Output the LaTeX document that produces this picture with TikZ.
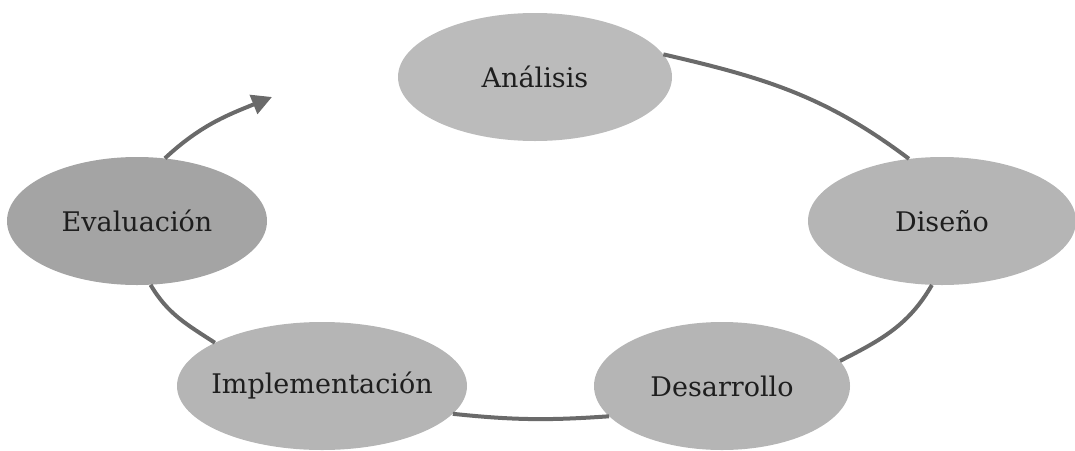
\documentclass[tikz,border=0pt]{standalone}
\usepackage{fontspec}
\setmainfont{DejaVu Serif}
\usetikzlibrary{arrows.meta,shapes.geometric}
\definecolor{fillA}{HTML}{BBBBBB}
\definecolor{fillB}{HTML}{B5B5B5}
\definecolor{fillE}{HTML}{A4A4A4}
\definecolor{linec}{HTML}{6A6A6A}
\definecolor{textc}{HTML}{1E1E1E}
\begin{document}
\begin{tikzpicture}[x=1pt,y=-1pt,
  phase/.style={ellipse,fill=fillB,inner xsep=-20pt,inner ysep=0pt,text=textc,font=\fontsize{27}{30}\selectfont},
  cycleline/.style={draw=linec,line width=4pt}]
\useasboundingbox (0,0) rectangle (1075,450);
\node[phase,fill=fillA,minimum width=274pt,minimum height=128pt] (ana) at (535,77) {Análisis};
\node[phase,minimum width=268pt,minimum height=128pt] (dis) at (942,221) {Diseño};
\node[phase,minimum width=256pt,minimum height=128pt] (des) at (722,386) {Desarrollo};
\node[phase,minimum width=290pt,minimum height=128pt] (imp) at (322,386) {Implementación};
\node[phase,fill=fillE,minimum width=260pt,minimum height=128pt] (eva) at (137,221) {Evaluación};
\coordinate (tip) at (272,97);
\draw[cycleline] (ana.10) to[out=-13,in=143] (dis.118);
\draw[cycleline] (dis.-99) to[out=-120,in=27] (des.12);
\draw[cycleline] (des.195) to[out=184,in=-6] (imp.-12.5);
\draw[cycleline] (imp.158) to[out=147,in=-59.5] (eva.-78);
\draw[cycleline,-{Triangle[length=20pt,width=20pt]}] (eva.66) to[out=43,in=-158] (tip);
\end{tikzpicture}
\end{document}
